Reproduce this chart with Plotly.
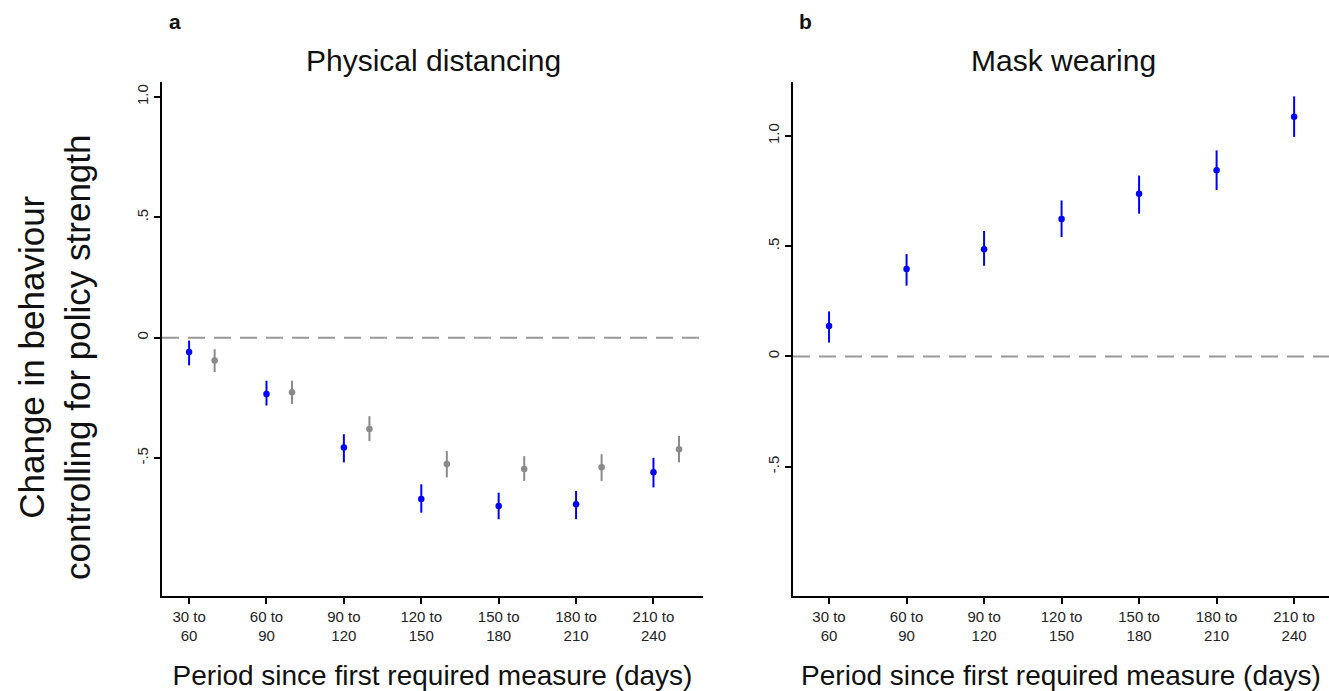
import plotly.graph_objects as go

periods = ["30 to<br>60", "60 to<br>90", "90 to<br>120", "120 to<br>150", "150 to<br>180", "180 to<br>210", "210 to<br>240"]
pos = [1, 2, 3, 4, 5, 6, 7]

# Panel a: physical distancing
dist_blue = [-0.060, -0.234, -0.456, -0.670, -0.699, -0.692, -0.559]
dist_blue_hi = [-0.012, -0.179, -0.401, -0.609, -0.644, -0.637, -0.499]
dist_blue_lo = [-0.115, -0.282, -0.518, -0.727, -0.754, -0.754, -0.622]
dist_gray = [-0.095, -0.227, -0.379, -0.525, -0.545, -0.538, -0.463]
dist_gray_hi = [-0.048, -0.179, -0.326, -0.471, -0.492, -0.484, -0.408]
dist_gray_lo = [-0.143, -0.275, -0.429, -0.580, -0.595, -0.595, -0.518]
gray_offset = 0.33

# Panel b: mask wearing
mask = [0.138, 0.396, 0.486, 0.623, 0.737, 0.844, 1.087]
mask_hi = [0.204, 0.464, 0.569, 0.707, 0.820, 0.934, 1.179]
mask_lo = [0.063, 0.321, 0.411, 0.541, 0.647, 0.754, 0.995]

BLUE = "#0000ff"
GRAY = "#8a8a8a"

def pt(x, y, hi, lo, color, xa, ya):
    return go.Scatter(
        x=x, y=y, mode="markers", xaxis=xa, yaxis=ya, showlegend=False,
        marker=dict(color=color, size=6.5),
        error_y=dict(type="data", symmetric=False,
                     array=[h - v for h, v in zip(hi, y)],
                     arrayminus=[v - l for v, l in zip(y, lo)],
                     color=color, thickness=2, width=0),
    )

fig = go.Figure()
fig.add_trace(pt(pos, dist_blue, dist_blue_hi, dist_blue_lo, BLUE, "x", "y"))
fig.add_trace(pt([p + gray_offset for p in pos], dist_gray, dist_gray_hi, dist_gray_lo, GRAY, "x", "y"))
fig.add_trace(pt(pos, mask, mask_hi, mask_lo, BLUE, "x2", "y2"))

W, H = 1329, 691
ydom = [1 - 596 / H, 1 - 82 / H]
tickfont = dict(family="Arial", size=15, color="#222")
xcommon = dict(showline=True, linecolor="black", linewidth=1.5, ticks="outside",
               ticklen=6, tickwidth=1.5, tickcolor="black", showgrid=False, zeroline=False,
               tickvals=pos, ticktext=periods, tickfont=dict(family="Arial", size=15, color="#222"),
               title=dict(text="Period since first required measure (days)",
                          font=dict(family="Arial", size=28, color="#111"), standoff=22),
               automargin=False)
ycommon = dict(showline=True, linecolor="black", linewidth=1.5, ticks="outside",
               ticklen=6, tickwidth=1.5, tickcolor="black", showgrid=False, zeroline=False,
               tickvals=[-0.5, 0, 0.5, 1.0], ticktext=["-.5", "0", ".5", "1.0"],
               tickangle=-90, tickfont=tickfont, automargin=False)

fig.update_layout(
    width=W, height=H, plot_bgcolor="white", paper_bgcolor="white",
    margin=dict(l=0, r=0, t=0, b=0),
    xaxis=dict(domain=[162 / W, 703 / W], range=[0.65, 7.64], anchor="y", **xcommon),
    yaxis=dict(domain=ydom, range=[-1.073, 1.062], anchor="x", **ycommon),
    xaxis2=dict(domain=[793 / W, 1.0], range=[0.535, 7.45], anchor="y2", **xcommon),
    yaxis2=dict(domain=ydom, range=[-1.086, 1.244], anchor="x2", **ycommon),
    shapes=[
        dict(type="line", xref="x domain", yref="y", x0=0, x1=1, y0=0, y1=0,
             line=dict(color="#999999", width=2, dash="17px,9px"), layer="below"),
        dict(type="line", xref="x2 domain", yref="y2", x0=0, x1=1, y0=0, y1=0,
             line=dict(color="#999999", width=2, dash="17px,9px"), layer="below"),
    ],
    annotations=[
        dict(text="Physical distancing", x=433, y=60,
             font=dict(family="Arial", size=30, color="#111")),
        dict(text="Mask wearing", x=1063, y=60,
             font=dict(family="Arial", size=30, color="#111")),
        dict(text="<b>a</b>", x=175, y=21,
             font=dict(family="Arial", size=21, color="#111")),
        dict(text="<b>b</b>", x=805, y=21,
             font=dict(family="Arial", size=21, color="#111")),
        dict(text="Change in behaviour<br>controlling for policy strength", x=55, y=357,
             textangle=-90,
             font=dict(family="Arial", size=35, color="#111")),
    ],
)
# convert pixel annotation positions to paper coords
for a in fig.layout.annotations:
    a.showarrow = False
    a.xref = "paper"
    a.yref = "paper"
    a.x = a.x / W
    a.y = 1 - a.y / H
    a.xanchor = "center"
    a.yanchor = "middle"

fig.write_html("out.html", config={"displayModeBar": False},
               post_script="document.body.style.margin='0px';document.body.style.overflow='hidden';")
